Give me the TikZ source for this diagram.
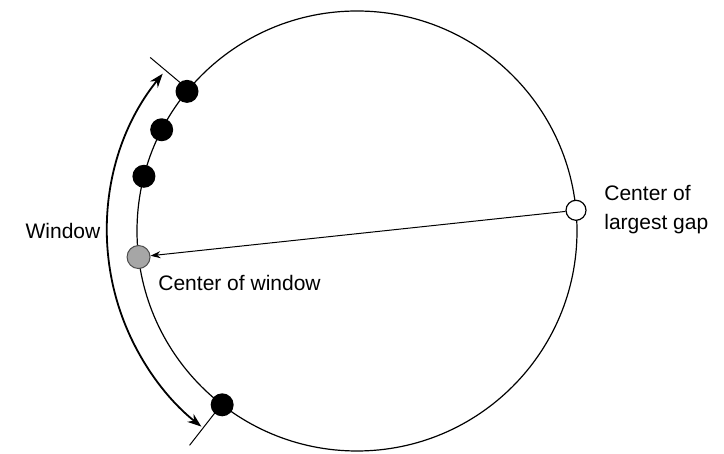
\documentclass[tikz,border=0pt]{standalone}
\usepackage{fontspec}
\setmainfont{Liberation Sans}
\usetikzlibrary{arrows.meta,positioning}

\begin{document}
\begin{tikzpicture}[x=0.5pt,y=0.5pt,
  every node/.style={font=\fontsize{10.5}{14.5}\selectfont},
  dot/.style={circle,fill=black,minimum size=11.5pt,inner sep=0pt},
  lbl/.style={inner sep=0pt,anchor=west,align=left}]
\useasboundingbox (0,0) rectangle (724,454);
\begin{scope}[shift={(357,223)}]
\coordinate (ctr) at (0,0);
\draw[line width=0.6pt] (ctr) circle (220);
% edges of the window
\coordinate (e1) at (140:215);
\coordinate (f1) at (140:270);
\coordinate (e2) at (232:215);
\coordinate (f2) at (232:272);
\draw[line width=0.5pt] (e1)--(f1);
\draw[line width=0.5pt] (e2)--(f2);
\draw[line width=0.9pt,{Stealth[length=7pt,width=5pt]}-{Stealth[length=7pt,width=5pt]}]
  (141:250) arc[start angle=141,end angle=231.5,radius=250];
\node[dot] (d1) at (140.6:220) {};
\node[dot] (d2) at (152.6:220) {};
\node[dot] (d3) at (165.6:220) {};
\node[dot] (d4) at (232.2:220) {};
\node[dot,fill=black!35,draw=black!70,line width=0.5pt] (win) at (186.8:220) {};
\node[dot,fill=white,draw=black,line width=0.6pt,minimum size=10pt] (gap) at (5.4:220) {};
\draw[line width=0.5pt,-{Stealth[length=5pt,width=3.5pt]}] (gap)--(win);
\node (wtxt) at (-294,0) {Window};
\node[lbl] (wlbl) at (-199,-52) {Center of window};
\node[lbl] (glbl) at (247,21) {Center of\\largest gap};
\end{scope}
\end{tikzpicture}
\end{document}
